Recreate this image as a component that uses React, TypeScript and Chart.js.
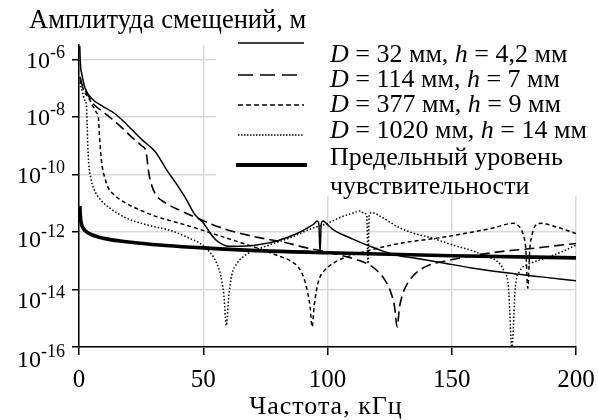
import { useEffect, useRef } from 'react';
import { Chart, registerables } from 'chart.js';

Chart.register(...registerables);

// ---------- data ----------
const xTicks = [0, 50, 100, 150, 200];
const yTickExponents = [-6, -8, -10, -12, -14, -16];

const yAxisTitle = 'Амплитуда смещений, м';
const xAxisTitle = 'Частота, кГц';

const seriesNames = [
  'D = 32 мм, h = 4,2 мм',
  'D = 114 мм, h = 7 мм',
  'D = 377 мм, h = 9 мм',
  'D = 1020 мм, h = 14 мм',
  'Предельный уровень чувствительности',
];

// D = 32 mm, h = 4.2 mm
const freqD32 = [0.3, 0.6, 1.1, 2.4, 5.1, 9.1, 14.5, 19.7, 25.4, 30.6, 35.4, 39, 42.7, 46.7, 50, 52.5, 54.8, 57, 60, 65, 70, 75, 80, 85, 89, 92, 94.5, 95.8, 96.5, 97.0, 97.5, 98.2, 100, 102, 105, 109, 116, 122, 129, 136, 145, 158, 172, 186, 200];
const ampD32 = [3.0e-6, 6.3e-7, 3.2e-7, 1.05e-7, 4.4e-8, 2.5e-8, 1.3e-8, 5.0e-9, 1.6e-9, 6.3e-10, 1.4e-10, 5.0e-11, 1.6e-11, 4.0e-12, 2.1e-12, 1.0e-12, 5.6e-13, 4.0e-13, 3.2e-13, 3.2e-13, 3.4e-13, 4.0e-13, 5.0e-13, 7.1e-13, 1.0e-12, 1.4e-12, 1.9e-12, 2.4e-12, 2.0e-12, 2.0e-13, 2.0e-12, 2.4e-12, 1.8e-12, 1.26e-12, 8.9e-13, 6.3e-13, 3.5e-13, 2.2e-13, 1.5e-13, 1.2e-13, 8.9e-14, 5.6e-14, 3.8e-14, 2.75e-14, 2.0e-14];

// D = 114 mm, h = 7 mm
const freqD114 = [0.4, 1.1, 2.4, 3.7, 6.4, 9.1, 13.1, 17.2, 21.2, 25.2, 26.8, 27.3, 28.0, 29.0, 30.6, 34.6, 41, 47, 56.7, 65, 74, 82, 91.7, 100, 106, 112, 116, 120, 123, 125.5, 127, 128, 129, 130.5, 132.5, 136, 141, 148, 158.5, 172, 181, 190, 200];
const ampD114 = [2.5e-7, 1.45e-7, 8.9e-8, 5.6e-8, 2.5e-8, 1.66e-8, 8.7e-9, 4.3e-9, 2.0e-9, 1.0e-9, 7.1e-10, 4.0e-10, 1.26e-10, 5.0e-11, 2.2e-11, 1.05e-11, 5.5e-12, 3.2e-12, 1.45e-12, 8.9e-13, 6.0e-13, 4.5e-13, 2.8e-13, 2.0e-13, 1.5e-13, 1.07e-13, 7.9e-14, 4.5e-14, 2.2e-14, 7.9e-15, 2.5e-15, 5.0e-16, 2.5e-15, 7.9e-15, 1.8e-14, 4.0e-14, 7.1e-14, 1.0e-13, 1.5e-13, 2.2e-13, 2.6e-13, 3.2e-13, 4.0e-13];

// D = 377 mm, h = 9 mm
const freqD377 = [0.4, 1.1, 2.4, 3.7, 5.5, 7.1, 7.8, 8.2, 8.7, 9.3, 10.5, 11.7, 14, 18.5, 25, 31.8, 40.6, 46.7, 54, 62, 71.6, 80, 85, 88.5, 90.5, 92, 93, 93.8, 94.6, 95.6, 96.8, 98.2, 102, 106, 116, 129, 145, 158.5, 167, 174.5, 177, 178.8, 179.8, 180.6, 181.4, 182.3, 183.5, 186, 192, 200];
const ampD377 = [2.0e-7, 1.26e-7, 7.1e-8, 4.8e-8, 2.5e-8, 1.4e-8, 1.0e-8, 2.5e-9, 6.3e-10, 2.0e-10, 7.1e-11, 3.5e-11, 2.0e-11, 1.05e-11, 5.6e-12, 3.3e-12, 2.0e-12, 1.4e-12, 8.7e-13, 5.2e-13, 2.8e-13, 1.5e-13, 1.0e-13, 5.6e-14, 2.5e-14, 7.9e-15, 2.5e-15, 5.0e-16, 2.5e-15, 1.0e-14, 2.5e-14, 4.0e-14, 7.9e-14, 1.2e-13, 2.2e-13, 4.0e-13, 6.3e-13, 1.0e-12, 1.4e-12, 2.0e-12, 1.6e-12, 7.9e-13, 2.5e-13, 1.1e-14, 2.5e-13, 7.9e-13, 1.6e-12, 2.0e-12, 1.5e-12, 8.9e-13];

// D = 1020 mm, h = 14 mm
const freqD1020 = [0.4, 1.1, 2.4, 3.0, 3.3, 3.5, 3.9, 4.7, 5.8, 9.1, 13, 18.5, 27, 37.3, 44, 48.7, 51.5, 54, 55.5, 57, 58.3, 59.3, 60.3, 61.5, 63.5, 67.6, 75.6, 85, 93, 100, 105, 110, 113.3, 114.5, 115.8, 116.3, 116.8, 118, 122, 129, 135, 142.5, 150.5, 158.5, 164, 168, 171, 172.8, 174.2, 175.6, 177.5, 180, 182.7, 188, 194, 200];
const ampD1020 = [1.6e-7, 8.9e-8, 3.7e-8, 2.5e-8, 5.0e-9, 1.26e-9, 2.5e-10, 7.9e-11, 3.5e-11, 1.2e-11, 6.3e-12, 3.2e-12, 1.8e-12, 1.1e-12, 6.3e-13, 4.0e-13, 2.5e-13, 1.4e-13, 7.9e-14, 3.2e-14, 6.3e-15, 5.6e-16, 6.3e-15, 3.2e-14, 7.9e-14, 1.7e-13, 3.3e-13, 6.3e-13, 1.26e-12, 2.0e-12, 3.2e-12, 4.5e-12, 5.4e-12, 4.5e-12, 4.0e-12, 7.9e-14, 4.0e-12, 4.7e-12, 3.2e-12, 1.4e-12, 8.9e-13, 6.0e-13, 3.5e-13, 2.2e-13, 1.4e-13, 1.0e-13, 4.5e-14, 1.26e-14, 1.0e-16, 1.26e-14, 4.5e-14, 7.1e-14, 8.9e-14, 1.26e-13, 2.0e-13, 3.5e-13];

// sensitivity limit
const freqLimit = [0.35, 0.6, 1.0, 1.8, 3.5, 8, 20, 35, 50, 75, 100, 150, 200];
const ampLimit = [7.9e-12, 3.2e-12, 1.9e-12, 1.3e-12, 9.5e-13, 6.6e-13, 4.5e-13, 3.4e-13, 2.8e-13, 2.2e-13, 1.9e-13, 1.5e-13, 1.26e-13];

// ---------- styling ----------
const SERIF = '"Liberation Serif", "Times New Roman", serif';
const GRID = '#d9d9d9';

type Seg = { t: string; it?: boolean };

function legendSegments(name: string): Seg[] {
  // italicise the symbols D and h
  const out: Seg[] = [];
  const re = /(D|h)(?= =)/g;
  let last = 0;
  let m: RegExpExecArray | null;
  while ((m = re.exec(name))) {
    if (m.index > last) out.push({ t: name.slice(last, m.index) });
    out.push({ t: m[0], it: true });
    last = m.index + m[0].length;
  }
  if (last < name.length) out.push({ t: name.slice(last) });
  return out;
}

const pts = (xs: number[], ys: number[]) => xs.map((x, i) => ({ x, y: ys[i] }));

const decorPlugin = {
  id: 'decor',
  beforeDatasetsDraw(chart: any) {
    const ctx = chart.ctx as CanvasRenderingContext2D;
    ctx.save();
    ctx.fillStyle = '#ffffff';
    ctx.fillRect(216, 0, chart.width - 216, 196);
    ctx.restore();
  },
  afterDraw(chart: any) {
    const ctx = chart.ctx as CanvasRenderingContext2D;
    const xs = chart.scales.x;
    const ys = chart.scales.y;
    ctx.save();
    ctx.fillStyle = '#000';
    ctx.textBaseline = 'alphabetic';

    // y tick labels: 10^e
    const nudge = [0, 0, 0, 7, 10, 12];
    yTickExponents.forEach((e, i) => {
      const yc = ys.getPixelForValue(Math.pow(10, e)) + nudge[i];
      ctx.font = `24px ${SERIF}`;
      const wb = ctx.measureText('10').width;
      ctx.font = `18px ${SERIF}`;
      const sup = String(e);
      const ws = ctx.measureText(sup).width;
      const right = 65;
      ctx.textAlign = 'left';
      ctx.font = `24px ${SERIF}`;
      ctx.fillText('10', right - ws - wb, yc + 8);
      ctx.font = `18px ${SERIF}`;
      ctx.fillText(sup, right - ws, yc - 2);
    });

    // x tick labels
    ctx.font = `25px ${SERIF}`;
    ctx.textAlign = 'center';
    xTicks.forEach((v) => {
      ctx.fillText(String(v), xs.getPixelForValue(v), 387);
    });

    // axis titles
    ctx.font = `26.5px ${SERIF}`;
    ctx.textAlign = 'left';
    ctx.fillText(yAxisTitle, 29, 28);
    ctx.font = `26px ${SERIF}`;
    ctx.textAlign = 'center';
    (ctx as any).letterSpacing = '1px';
    ctx.fillText(xAxisTitle, 326, 414);
    (ctx as any).letterSpacing = '0px';

    // legend
    const sampleY = [43, 75, 105, 135, 165];
    const sampleDash = [[], [15, 7], [5, 3], [1.5, 1.5], []];
    const sampleW = [1.5, 1.6, 1.5, 1.5, 4];
    sampleY.forEach((y, i) => {
      ctx.beginPath();
      ctx.setLineDash(sampleDash[i]);
      ctx.lineWidth = sampleW[i];
      ctx.strokeStyle = '#000';
      ctx.moveTo(i === 4 ? 236 : 238, y);
      ctx.lineTo(i === 4 ? 307 : 304, y);
      ctx.stroke();
    });
    ctx.setLineDash([]);
    const textBase = [62, 87, 112, 138, 165, 194];
    const lines: string[] = [seriesNames[0], seriesNames[1], seriesNames[2], seriesNames[3], 'Предельный уровень', 'чувствительности'];
    ctx.textAlign = 'left';
    lines.forEach((ln, i) => {
      let x = 330;
      legendSegments(ln).forEach((s) => {
        ctx.font = `${s.it ? 'italic ' : ''}26px ${SERIF}`;
        ctx.fillText(s.t, x, textBase[i]);
        x += ctx.measureText(s.t).width;
      });
    });
    ctx.restore();
  },
};

export default function App() {
  const ref = useRef<HTMLCanvasElement | null>(null);
  useEffect(() => {
    if (!ref.current) return;
    const common = { pointRadius: 0, borderColor: '#000', cubicInterpolationMode: 'monotone' as const, fill: false };
    const chart = new Chart(ref.current, {
      type: 'line',
      data: {
        datasets: [
          { ...common, label: seriesNames[0], data: pts(freqD32, ampD32), borderWidth: 1.5 },
          { ...common, label: seriesNames[1], data: pts(freqD114, ampD114), borderWidth: 1.6, borderDash: [10, 5] },
          { ...common, label: seriesNames[2], data: pts(freqD377, ampD377), borderWidth: 1.5, borderDash: [4, 3] },
          { ...common, label: seriesNames[3], data: pts(freqD1020, ampD1020), borderWidth: 1.5, borderDash: [1.5, 2] },
          { ...common, label: seriesNames[4], data: pts(freqLimit, ampLimit), borderWidth: 3.6 },
        ],
      },
      options: {
        responsive: false,
        animation: false,
        events: [],
        layout: { padding: { left: 72, right: 22, top: 45, bottom: 65 } },
        plugins: { legend: { display: false }, tooltip: { enabled: false }, title: { display: false } },
        scales: {
          x: {
            type: 'linear',
            min: 0,
            max: 200,
            ticks: { display: false },
            afterBuildTicks: (s: any) => {
              s.ticks = xTicks.map((v) => ({ value: v }));
            },
            grid: { color: GRID, lineWidth: 1.5, tickColor: '#000', tickLength: 8, tickWidth: 1.5 },
            border: { color: '#000', width: 1.5 },
          },
          y: {
            type: 'logarithmic',
            min: 1e-16,
            max: 3.2e-6,
            ticks: { display: false },
            afterBuildTicks: (s: any) => {
              s.ticks = yTickExponents.map((e) => ({ value: Math.pow(10, e) }));
            },
            grid: { color: GRID, lineWidth: 1.5, tickColor: '#000', tickLength: 7, tickWidth: 1.5 },
            border: { color: '#000', width: 1.5 },
          },
        },
      },
      plugins: [decorPlugin],
    });
    return () => chart.destroy();
  }, []);
  return (
    <canvas
      ref={ref}
      width={598}
      height={420}
      style={{ position: 'fixed', left: 0, top: 0, display: 'block' }}
    />
  );
}
